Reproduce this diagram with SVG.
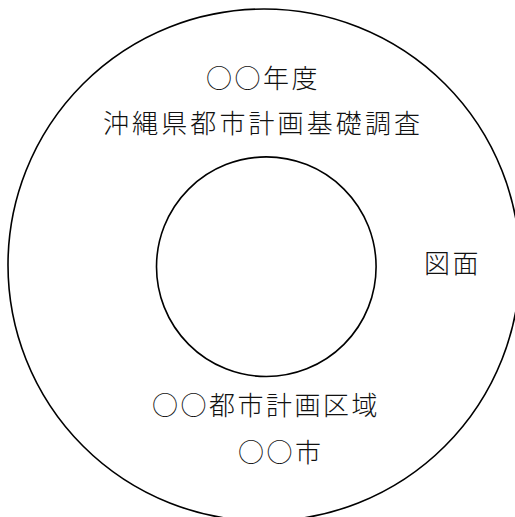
<svg xmlns="http://www.w3.org/2000/svg" width="515" height="517" viewBox="0 0 515 517">
<style>
.ring{fill:none;stroke:#000;stroke-width:1.6}
.t{font-family:"Noto Sans CJK JP","Noto Sans CJK SC",sans-serif;font-size:26px;font-weight:300;fill:#111;letter-spacing:2.5px}
.wide{letter-spacing:3.1px}
</style>
<rect width="515" height="517" fill="#fff"/>
<g id="outer-disc"><circle class="ring" cx="264" cy="265" r="256"/></g>
<g id="inner-hole"><circle class="ring" cx="266.3" cy="266.7" r="109.8"/></g>
<g id="title">
<text class="t" x="206" y="88">○○年度</text>
<text class="t wide" x="103" y="133">沖縄県都市計画基礎調査</text>
</g>
<g id="label-zumen"><text class="t" x="424" y="273">図面</text></g>
<g id="area">
<text class="t" x="152" y="415">○○都市計画区域</text>
<text class="t" x="238" y="462">○○市</text>
</g>
</svg>
